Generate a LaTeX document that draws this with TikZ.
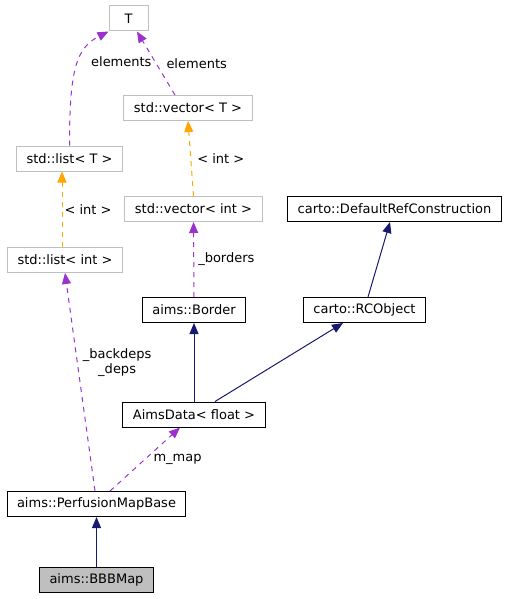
\documentclass[tikz,border=0pt]{standalone}
\usepackage{fontspec}
\setmainfont{DejaVu Sans}
\usepackage{xcolor}
\usetikzlibrary{arrows.meta, positioning}

\definecolor{memberc}{HTML}{9A32CD}
\definecolor{inheritc}{HTML}{191970}
\definecolor{undocc}{HTML}{BFBFBF}
\definecolor{tmplc}{HTML}{FFA500}

\tikzset{
  cls/.style={draw, line width=1pt, rectangle, minimum height=25pt, minimum width=39pt,
    inner xsep=10pt, inner ysep=0pt, font=\fontsize{13}{15}\selectfont},
  extcls/.style={cls, draw=undocc},
  lbl/.style={font=\fontsize{13}{15}\selectfont, inner sep=2pt},
  inh/.style={draw=inheritc, line width=1pt, -{Triangle[length=11pt,width=9pt]}},
  mem/.style={draw=memberc, line width=1pt, dash pattern=on 5pt off 5pt, -{Triangle[length=11pt,width=9pt]}},
  tmpl/.style={mem, draw=tmplc},
}

\begin{document}
\begin{tikzpicture}[x=1pt, y=-1pt]
\useasboundingbox (0,0) rectangle (508,599);

\node[extcls] (T) at (128.5,18.5) {T};
\node[extcls] (vecT) at (188,108) {std::vector< T >};
\node[extcls] (listT) at (69.5,158.5) {std::list< T >};
\node[extcls] (vecInt) at (193.5,209) {std::vector< int >};
\node[extcls] (listInt) at (65,260) {std::list< int >};
\node[cls] (refCons) at (394.5,209) {carto::DefaultRefConstruction};
\node[cls] (border) at (194,310) {aims::Border};
\node[cls] (rcObj) at (364.5,310) {carto::RCObject};
\node[cls] (aimsData) at (194,414.5) {AimsData< float >};
\node[cls] (perfMap) at (96.5,504) {aims::PerfusionMapBase};
\node[cls, fill=undocc] (bbbMap) at (96.5,580) {aims::BBBMap};

% inheritance
\draw[inh] (bbbMap) -- (perfMap);
\draw[inh] (aimsData) -- (border);
\draw[inh] ([xshift=21pt]aimsData.north) -- ([xshift=-21.5pt]rcObj.south);
\draw[inh] ([xshift=3.5pt]rcObj.north) -- ([xshift=-4.5pt]refCons.south);

% members
\draw[mem] ([xshift=13.5pt]perfMap.north) -- node[lbl, right, xshift=6pt] (lMap) {m\_map} ([xshift=-14pt]aimsData.south);
\draw[mem] ([xshift=-1.5pt]perfMap.north) -- node[lbl, right, pos=0.59, align=center, xshift=3pt] (lDeps) {\_backdeps\\\_deps} (listInt.south);
\draw[mem] (border) -- node[lbl, right, xshift=2pt] (lBorders) {\_borders} (vecInt);
\draw[mem] ([xshift=-13pt]vecT.north) -- node[lbl, right, xshift=8pt] (lElemV) {elements} ([xshift=8.5pt]T.south);
\draw[mem] (listT.north) .. controls (69.5,70) and (76,48) .. ([xshift=-20pt]T.south)
  node[lbl, right, pos=0.55, xshift=10pt] (lElemL) {elements};

% templates
\draw[tmpl] ([xshift=-3pt]listInt.north) -- node[lbl, right] (lListInt) {< int >} ([xshift=-7.5pt]listT.south);
\draw[tmpl] (vecInt.north) -- node[lbl, right, xshift=4pt] (lVecInt) {< int >} (vecT.south);
\end{tikzpicture}
\end{document}
